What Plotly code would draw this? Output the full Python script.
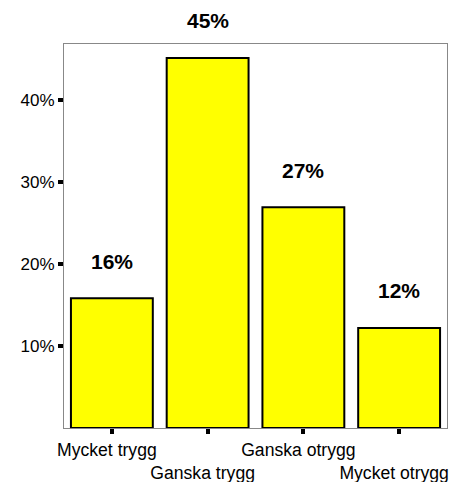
import plotly.graph_objects as go

categories = ["Mycket trygg", "Ganska trygg", "Ganska otrygg", "Mycket otrygg"]
values = [15.8, 45.1, 26.9, 12.2]
bar_labels = [f"{round(v)}%" for v in values]
y_tickvals = [10, 20, 30, 40]
y_ticktext = ["10%", "20%", "30%", "40%"]
x_ticktext = [c if i % 2 == 0 else "<br>" + c for i, c in enumerate(categories)]

FONT = "Arial, Liberation Sans, sans-serif"

fig = go.Figure()
fig.add_trace(go.Bar(
    x=categories, y=values, width=0.855,
    marker=dict(color="#FFFF00", line=dict(color="black", width=2)),
    hoverinfo="skip", showlegend=False,
))

for c, v, t in zip(categories, values, bar_labels):
    fig.add_annotation(x=c, y=v, text=t, showarrow=False, yanchor="middle",
                       yshift=37, font=dict(family=FONT, size=21, color="black", weight="bold"))

fig.update_layout(
    width=452, height=482,
    margin=dict(l=64, r=5, t=44, b=54, autoexpand=False),
    paper_bgcolor="white", plot_bgcolor="white",
    font=dict(family=FONT, size=17, color="black"),
    bargap=0.15,
    xaxis=dict(
        range=[-0.5, 3.5], tickmode="array", tickvals=categories, ticktext=x_ticktext,
        ticks="outside", ticklen=5, tickwidth=4, tickcolor="black",
        showline=True, linecolor="#888888", linewidth=1, mirror=True,
        showgrid=False, zeroline=False, tickangle=0, automargin=False,
        ticklabelshift=-5, ticklabelstandoff=1,
        tickfont=dict(family=FONT, size=17.6, color="black"),
    ),
    yaxis=dict(
        range=[0, 46.8], tickmode="array", tickvals=y_tickvals, ticktext=y_ticktext,
        ticks="outside", ticklen=5, tickwidth=4, tickcolor="black",
        showline=True, linecolor="#888888", linewidth=1, mirror=True,
        showgrid=False, zeroline=False, automargin=False,
        tickfont=dict(family=FONT, size=17, color="black"),
    ),
)

fig.write_html("out.html", config={"displayModeBar": False},
               post_script="document.body.style.margin='0';document.body.style.overflow='hidden';")
